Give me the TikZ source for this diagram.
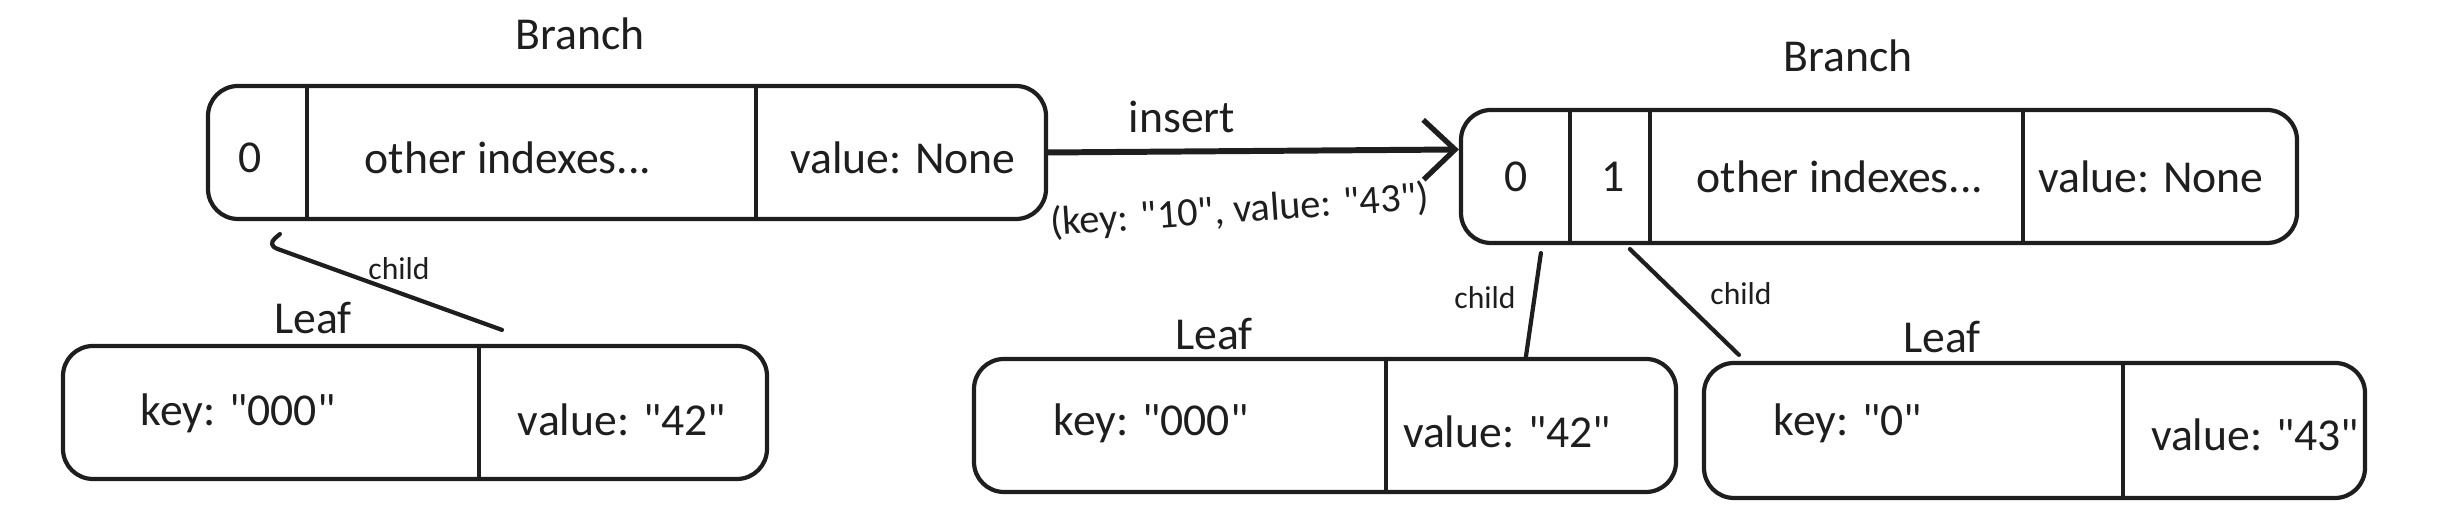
\documentclass[tikz,border=0pt]{standalone}
\usepackage{fontspec}
\setmainfont{Carlito}
\usetikzlibrary{calc,positioning,arrows.meta}
\usepackage{xcolor}
\definecolor{ink}{HTML}{1E1E1E}
\newcommand{\qt}[1]{\textquotedbl#1\textquotedbl}
\tikzstyle{l2}=[line width=1.2pt, draw=ink]
\tikzstyle{box}=[l2, rounded corners=0.3cm, inner sep=0pt, minimum height=1.33cm]
\tikzstyle{cell}=[text=ink, font=\fontsize{13}{15}\selectfont, inner sep=1pt]
\tikzstyle{title}=[text=ink, font=\fontsize{13}{15}\selectfont]
\tikzstyle{tag}=[text=ink, font=\fontsize{9}{11}\selectfont]
\tikzstyle{edge}=[l2, line cap=round]

\begin{document}
\begin{tikzpicture}[node distance=1cm, on grid]
    \useasboundingbox (0,0) rectangle (24.56,5.32);

    % before the insert
    \node[box, minimum width=8.38cm] (lb) at (6.27,3.795) {};
    \node[title] (lbt) [above left = 1.19cm and 0.47cm of lb] {Branch};
    \foreach \x in {1.01,5.50}{
            \draw[l2] ([xshift=\x cm]lb.north west) -- ([xshift=\x cm]lb.south west);
        }
    \node[cell] (lb0) at (2.50,3.74) {0};
    \node[cell] (lbo) at (5.08,3.74) {other indexes...};
    \node[cell] (lbv) at (9.03,3.74) {value: None};

    \node[box, minimum width=7.04cm] (ll) at (4.15,1.195) {};
    \node[title] (llt) at (3.13,2.14) {Leaf};
    \draw[l2] ([xshift=4.18cm]ll.north west) -- ([xshift=4.18cm]ll.south west);
    \node[cell] (llk) at (2.38,1.19) {key: \qt{000}};
    \node[cell] (llv) at (6.22,1.12) {value: \qt{42}};

    \coordinate (lc0) at ([xshift=0.74cm,yshift=-0.13cm]lb.south west);
    \coordinate (lc1) at ([xshift=4.41cm,yshift=0.14cm]ll.north west);
    \draw[edge, rounded corners=3pt] (lc0) -- ++(-0.13,-0.11) -- (lc1);
    \node[tag] (lct) at (3.99,2.63) {child};

    % after the insert
    \node[box, minimum width=8.36cm] (rb) at (18.79,3.555) {};
    \node[title] (rbt) [above left = 1.205cm and 0.31cm of rb] {Branch};
    \foreach \x in {1.11,1.91,5.64}{
            \draw[l2] ([xshift=\x cm]rb.north west) -- ([xshift=\x cm]rb.south west);
        }
    \node[cell] (rb0) at (15.16,3.55) {0};
    \node[cell] (rb1) at (16.13,3.55) {1};
    \node[cell] (rbo) at (18.40,3.55) {other indexes...};
    \node[cell] (rbv) at (21.51,3.55) {value: None};

    % the insert
    \coordinate (ins) at ([yshift=0.27cm]rb.west);
    \draw[l2, line width=1.7pt, -{Straight Barb[length=9pt,width=17pt,line width=1.5pt]}] (lb.east) -- (ins);
    \node[title] (inst) at (11.82,4.15) {insert};
    \node[title, rotate=4, font=\fontsize{11.5}{13}\selectfont] (insa) at (12.40,3.21) {(key: \qt{10}, value: \qt{43})};

    \node[box, minimum width=7.02cm] (rl1) at (13.25,1.065) {};
    \node[title] (rl1t) at (12.14,1.98) {Leaf};
    \draw[l2] ([xshift=4.14cm]rl1.north west) -- ([xshift=4.14cm]rl1.south west);
    \node[cell] (rl1k) at (11.51,1.09) {key: \qt{000}};
    \node[cell] (rl1v) at (15.07,1.00) {value: \qt{42}};

    \node[box, minimum width=6.61cm, minimum height=1.35cm] (rl2) at (20.345,1.015) {};
    \node[title] (rl2t) at (19.42,1.95) {Leaf};
    \draw[l2] ([xshift=4.21cm]rl2.north west) -- ([xshift=4.21cm]rl2.south west);
    \node[cell] (rl2k) at (18.48,1.09) {key: \qt{0}};
    \node[cell] (rl2v) at (22.55,0.97) {value: \qt{43}};

    \coordinate (rc0) at ([xshift=0.82cm,yshift=-0.08cm]rb.south west);
    \coordinate (rc1) at ([xshift=5.54cm]rl1.north west);
    \draw[edge] (rc0) -- (rc1);
    \node[tag] (rc1t) at (14.85,2.34) {child};

    \coordinate (rc2) at ([xshift=1.71cm,yshift=-0.04cm]rb.south west);
    \coordinate (rc3) at ([xshift=0.37cm,yshift=0.06cm]rl2.north west);
    \draw[edge] (rc2) -- (rc3);
    \node[tag] (rc2t) at (17.41,2.38) {child};

\end{tikzpicture}
\end{document}
